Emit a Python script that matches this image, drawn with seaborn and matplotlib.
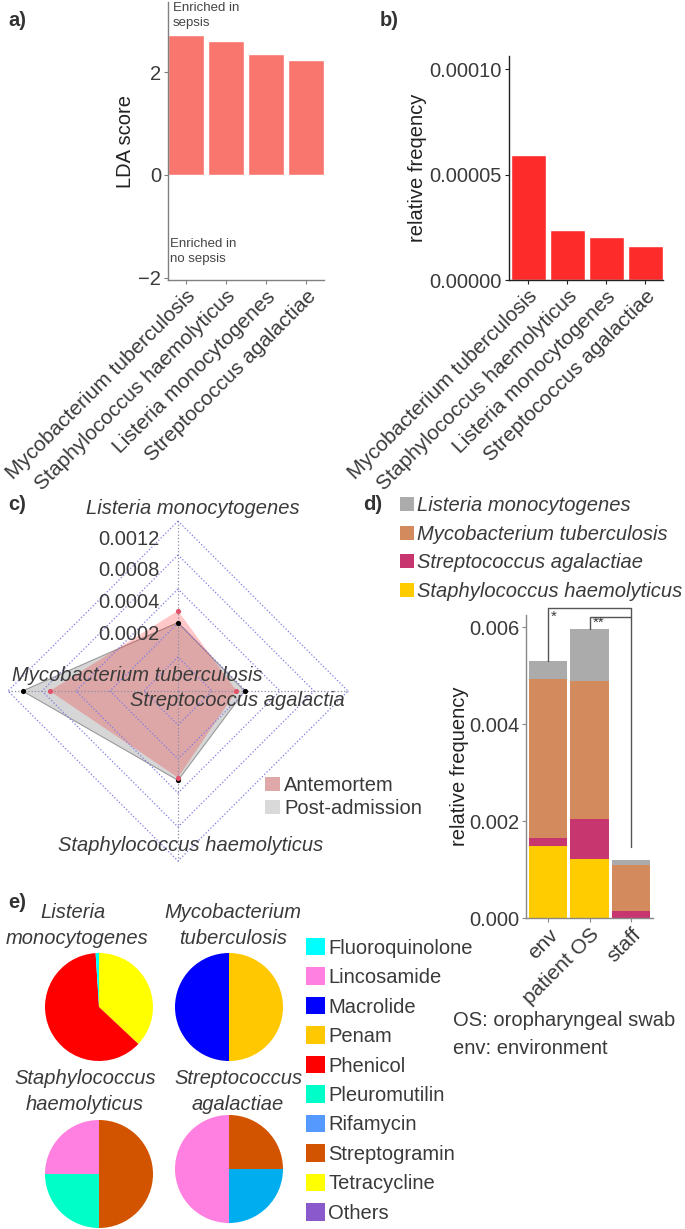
import numpy as np
import pandas as pd
import matplotlib
matplotlib.use('Agg')
import matplotlib.pyplot as plt
from matplotlib.patches import Patch
import seaborn as sns

sns.set_theme(style='white')
plt.rcParams['font.family'] = ['Liberation Sans', 'DejaVu Sans']

W, H = 685, 1229
TXT = '#3a3a3a'
FS = 14.5

# a) LDA scores and b) relative frequency
species = ['Mycobacterium tuberculosis', 'Staphylococcus haemolyticus',
           'Listeria monocytogenes', 'Streptococcus agalactiae']
lda_scores = [2.72, 2.60, 2.35, 2.23]
rel_freq = [5.92e-5, 2.37e-5, 2.04e-5, 1.61e-5]

# c) radar chart
radar_axes = ['Listeria monocytogenes', 'Mycobacterium tuberculosis',
              'Staphylococcus haemolyticus', 'Streptococcus agalactia']
antemortem = [0.00051, 0.00104, 0.00058, 0.00027]
post_admission = [0.00038, 0.00134, 0.00061, 0.00036]
radar_ticks = ['0.0002', '0.0004', '0.0008', '0.0012']
radar_max = 0.0015

# d) stacked bars by source
sources = ['env', 'patient OS', 'staff']
staph_d = [0.00148, 0.00122, 0.0]
strep_d = [0.00017, 0.00082, 0.00014]
myco_d = [0.00328, 0.00285, 0.00095]
listeria_d = [0.00037, 0.00107, 0.00011]
d_labels = ['Staphylococcus haemolyticus', 'Streptococcus agalactiae',
            'Mycobacterium tuberculosis', 'Listeria monocytogenes']
d_colors = ['#ffcc00', '#c8366f', '#d38b5d', '#ababab']

# e) drug classes
drug_classes = ['Fluoroquinolone', 'Lincosamide', 'Macrolide', 'Penam', 'Phenicol',
                'Pleuromutilin', 'Rifamycin', 'Streptogramin', 'Tetracycline', 'Others']
class_colors = ['#00ffff', '#ff80e0', '#0000ff', '#ffc800', '#ff0000',
                '#00ffc8', '#5599ff', '#d35400', '#ffff00', '#8a5acd']
pie_titles = ['Listeria\nmonocytogenes', 'Mycobacterium\ntuberculosis',
              'Staphylococcus\nhaemolyticus', 'Streptococcus\nagalactiae']
pie_classes = [['Tetracycline', 'Phenicol', 'Fluoroquinolone'],
               ['Penam', 'Macrolide'],
               ['Streptogramin', 'Pleuromutilin', 'Lincosamide'],
               ['Streptogramin', 'Rifamycin', 'Lincosamide']]
pie_shares = [[37, 62, 1], [50, 50], [50, 25, 25], [25, 25, 50]]


def box(left, top, width, height):
    """Pixel box (from top-left) to figure fraction rect."""
    return [left / W, 1 - (top + height) / H, width / W, height / H]


def style_axis(ax, spine_color):
    sns.despine(ax=ax)
    for s in ['left', 'bottom']:
        ax.spines[s].set_color(spine_color)
        ax.spines[s].set_linewidth(1)
    ax.tick_params(left=True, bottom=True, length=3, width=0.8, color=spine_color,
                   labelsize=FS, labelcolor=TXT, pad=2)


fig = plt.figure(figsize=(W / 100, H / 100), dpi=100)

# ---- a)
ax_a = fig.add_axes(box(168, 2, 156, 278))
sns.barplot(x=species, y=lda_scores, color='#f8766d', saturation=1, width=0.9,
            edgecolor='white', linewidth=1, ax=ax_a)
ax_a.set_xlim(-0.45, 3.45)
ax_a.set_ylim(-2.04, 3.36)
ax_a.set_yticks([-2, 0, 2])
ax_a.set_ylabel('LDA score', fontsize=FS, color='#222222', labelpad=2)
style_axis(ax_a, '#808080')
ax_a.set_xticks(range(len(species)))
ax_a.set_xticklabels(species, rotation=45, ha='right', va='top', rotation_mode='anchor',
                     fontsize=15)
ax_a.text(0.03, 1.0, 'Enriched in\nsepsis', transform=ax_a.transAxes, fontsize=9.5,
          color='#444444', va='top', ha='left', linespacing=1.3)
ax_a.text(0.01, 0.15, 'Enriched in\nno sepsis', transform=ax_a.transAxes, fontsize=9.5,
          color='#444444', va='top', ha='left', linespacing=1.3)

# ---- b)
ax_b = fig.add_axes(box(509, 56, 154, 224))
sns.barplot(x=species, y=rel_freq, color='#fe2b2b', saturation=1, width=0.9,
            edgecolor='white', linewidth=1, ax=ax_b)
ax_b.set_xlim(-0.49, 3.46)
ax_b.set_ylim(0, 0.0001062)
ax_b.set_yticks([0, 0.00005, 0.0001])
ax_b.set_yticklabels(['0.00000', '0.00005', '0.00010'])
ax_b.set_ylabel('relative freqency', fontsize=FS, color='#222222', labelpad=2)
style_axis(ax_b, '#222222')
ax_b.set_xticks(range(len(species)))
ax_b.set_xticklabels(species, rotation=45, ha='right', va='top', rotation_mode='anchor',
                     fontsize=15)

# ---- c) radar
ax_c = fig.add_axes(box(0, 500, 360, 380))
ax_c.set_xlim(-178 / 170, 182 / 170)
ax_c.set_ylim(-189 / 170, 191 / 170)
ax_c.axis('off')
theta = np.pi / 2 + np.arange(len(radar_axes)) * np.pi / 2


def radar_xy(vals):
    r = 0.2 + 0.8 * np.asarray(vals) / radar_max
    x, y = r * np.cos(theta), r * np.sin(theta)
    return np.append(x, x[0]), np.append(y, y[0])


for lev in [0.2, 0.4, 0.6, 0.8, 1.0]:
    ax_c.plot(lev * np.cos(np.append(theta, theta[0])), lev * np.sin(np.append(theta, theta[0])),
              ls=':', color='#7b7be6', lw=0.9, zorder=4)
for t in theta:
    ax_c.plot([0, np.cos(t)], [0, np.sin(t)], ls=':', color='#8c8ca8', lw=0.9, zorder=4)

px, py = radar_xy(post_admission)
ax_c.fill(px, py, color='#d6d6d6', lw=0, zorder=2)
ax_c.plot(px, py, color='#9a9a9a', lw=0.8, zorder=2)
ax, ay = radar_xy(antemortem)
ax_c.fill(ax, ay, color=(1, 0, 0, 0.22), lw=0, zorder=3)
ax_c.scatter(px[:-1], py[:-1], s=14, color='black', zorder=5, lw=0)
ax_c.scatter(ax[:-1], ay[:-1], s=14, color='#df536b', zorder=5, lw=0)

label_pos = [(0.09, 1.076), (-0.24, 0.094), (0.076, -0.91), (0.35, -0.053)]
for name, (lx, ly) in zip(radar_axes, label_pos):
    ax_c.text(lx, ly, name, fontsize=FS, style='italic', color=TXT,
              ha='center', va='center', zorder=6)
for lab, ly in zip(radar_ticks, [0.33, 0.52, 0.71, 0.894]):
    ax_c.text(-0.11, ly, lab, fontsize=FS, color=TXT, ha='right', va='center', zorder=6)

fig.legend(handles=[Patch(facecolor='#dfa8a8', edgecolor='none', label='Antemortem'),
                    Patch(facecolor='#d9d9d9', edgecolor='none', label='Post-admission')],
           loc='upper left', bbox_to_anchor=(265 / W, 1 - 776 / H), frameon=False,
           fontsize=FS, handlelength=0.75, handleheight=0.75, handletextpad=0.2,
           labelspacing=0.2, borderpad=0, borderaxespad=0, labelcolor=TXT)

# ---- d) stacked bars
ax_d = fig.add_axes(box(526, 615, 127, 303))
cum = np.cumsum([staph_d, strep_d, myco_d, listeria_d], axis=0)
for i in reversed(range(len(cum))):
    sns.barplot(x=sources, y=cum[i], color=d_colors[i], saturation=1, width=0.92,
                edgecolor='none', linewidth=0, ax=ax_d)
ax_d.set_xlim(-0.53, 2.53)
ax_d.set_ylim(0, 0.00625)
ax_d.set_yticks([0, 0.002, 0.004, 0.006])
ax_d.set_yticklabels(['0.000', '0.002', '0.004', '0.006'])
ax_d.set_ylabel('relative frequency', fontsize=FS, color='#222222', labelpad=0)
style_axis(ax_d, '#888888')
ax_d.set_xticks(range(len(sources)))
ax_d.set_xticklabels(sources, rotation=45, ha='right', va='top', rotation_mode='anchor',
                     fontsize=15)

totals = cum[-1]
top_y, inner_y = 0.00639, 0.0062
ax_d.plot([0, 0, 2, 2], [totals[0], top_y, top_y, totals[2] + 0.00026],
          color='#555555', lw=1, clip_on=False)
ax_d.plot([1, 1, 2], [totals[1], inner_y, inner_y], color='#555555', lw=1, clip_on=False)
ax_d.text(0.06, top_y - 0.00003, '*', fontsize=11, color=TXT, ha='left', va='top')
ax_d.text(1.08, inner_y + 0.00003, '**', fontsize=11, color=TXT, ha='left', va='top')

fig.legend(handles=[Patch(facecolor=c, edgecolor='none', label=l)
                    for l, c in zip(d_labels[::-1], d_colors[::-1])],
           loc='upper left', bbox_to_anchor=(400 / W, 1 - 496 / H), frameon=False,
           handlelength=0.7, handleheight=0.7, handletextpad=0.15,
           labelspacing=0.48, borderpad=0, borderaxespad=0, labelcolor=TXT,
           prop={'style': 'italic', 'size': FS})

fig.text(453 / W, 1 - 1020 / H, 'OS: oropharyngeal swab', fontsize=FS, color=TXT, va='center')
fig.text(453 / W, 1 - 1048 / H, 'env: environment', fontsize=FS, color=TXT, va='center')

# ---- e) pies
color_of = dict(zip(drug_classes, class_colors))
pie_centres = [(99, 1007), (229, 1007), (99, 1174), (229, 1169)]
title_y = [913, 913, 1079, 1079]
title_x = [(73, 77), (233, 233), (85, 85), (238, 238)]
for k in range(4):
    cx, cy = pie_centres[k]
    ax_p = fig.add_axes(box(cx - 54, cy - 54, 108, 108))
    cols = [color_of[c] for c in pie_classes[k]]
    if k == 3:
        cols[1] = '#00aeef'
    ax_p.pie(pie_shares[k], colors=cols, startangle=90, counterclock=False,
             radius=1, wedgeprops={'linewidth': 0})
    ax_p.set_xlim(-1, 1)
    ax_p.set_ylim(-1, 1)
    for j, line in enumerate(pie_titles[k].split('\n')):
        fig.text(title_x[k][j] / W, 1 - (title_y[k] + 25 * j) / H, line, fontsize=FS,
                 style='italic', color=TXT, ha='center', va='center')

fig.legend(handles=[Patch(facecolor=c, edgecolor='none', label=l)
                    for l, c in zip(drug_classes, class_colors)],
           loc='upper left', bbox_to_anchor=(306 / W, 1 - 938 / H), frameon=False,
           fontsize=FS, handlelength=0.95, handleheight=0.95, handletextpad=0.15,
           labelspacing=0.49, borderpad=0, borderaxespad=0, labelcolor=TXT)

# panel letters
for lab, x, y in [('a)', 8, 20), ('b)', 380, 20), ('c)', 8, 505), ('d)', 363, 505), ('e)', 8, 903)]:
    fig.text(x / W, 1 - y / H, lab, fontsize=FS, fontweight='bold', color='#333333', va='center')

fig.savefig('out.png', dpi=100)
